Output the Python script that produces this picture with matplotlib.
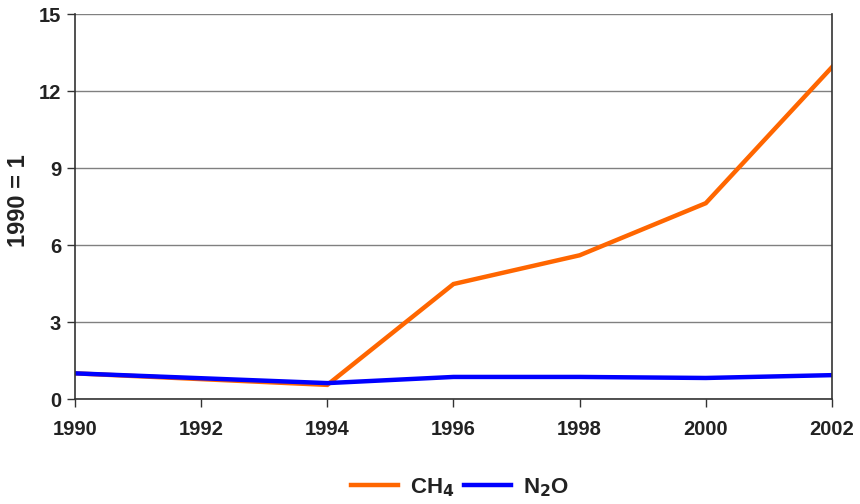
import matplotlib.pyplot as plt

plt.rcParams["font.family"] = ["Liberation Sans", "DejaVu Sans"]
plt.rcParams["font.weight"] = "bold"

years = [1990, 1994, 1996, 1998, 2000, 2002]
ch4 = [1.0, 0.55, 4.48, 5.6, 7.63, 12.93]
n2o = [1.0, 0.62, 0.86, 0.86, 0.82, 0.93]

x_ticks = [1990, 1992, 1994, 1996, 1998, 2000, 2002]
y_ticks = [0, 3, 6, 9, 12, 15]

fig = plt.figure(figsize=(8.6, 5.04), dpi=100)
ax = fig.add_axes([0.0872, 0.2083, 0.8802, 0.7639])

ax.plot(years, ch4, color="#FF6600", lw=3.2, label="CH$_\\mathbf{4}$", solid_joinstyle="miter")
ax.plot(years, n2o, color="#0000FF", lw=3.2, label="N$_\\mathbf{2}$O", solid_joinstyle="miter")

ax.set_xlim(1990, 2002)
ax.set_ylim(0, 15)
ax.set_xticks(x_ticks)
ax.set_yticks(y_ticks)
ax.yaxis.grid(True, color="#808080", lw=1)
ax.set_axisbelow(True)
ax.tick_params(axis="both", labelsize=14.5, length=6, width=1, color="#333333", pad=4)
ax.tick_params(axis="x", pad=9)
for lbl in ax.get_xticklabels() + ax.get_yticklabels():
    lbl.set_fontweight("bold")
    lbl.set_color("#222222")
for s in ax.spines.values():
    s.set_color("#333333")
    s.set_linewidth(1.2)
ax.spines["top"].set_visible(False)

ax.set_ylabel("1990 = 1", fontsize=17, fontweight="bold", color="#222222")
ax.yaxis.set_label_coords(-0.059, 0.515)

leg = fig.legend(loc="center", bbox_to_anchor=(0.535, 0.033), ncol=2, frameon=False,
                 fontsize=16, handlelength=2.1, columnspacing=0.45, handletextpad=0.55)
for t in leg.get_texts():
    t.set_fontweight("bold")
    t.set_color("#222222")

fig.savefig("out.png", dpi=100)
